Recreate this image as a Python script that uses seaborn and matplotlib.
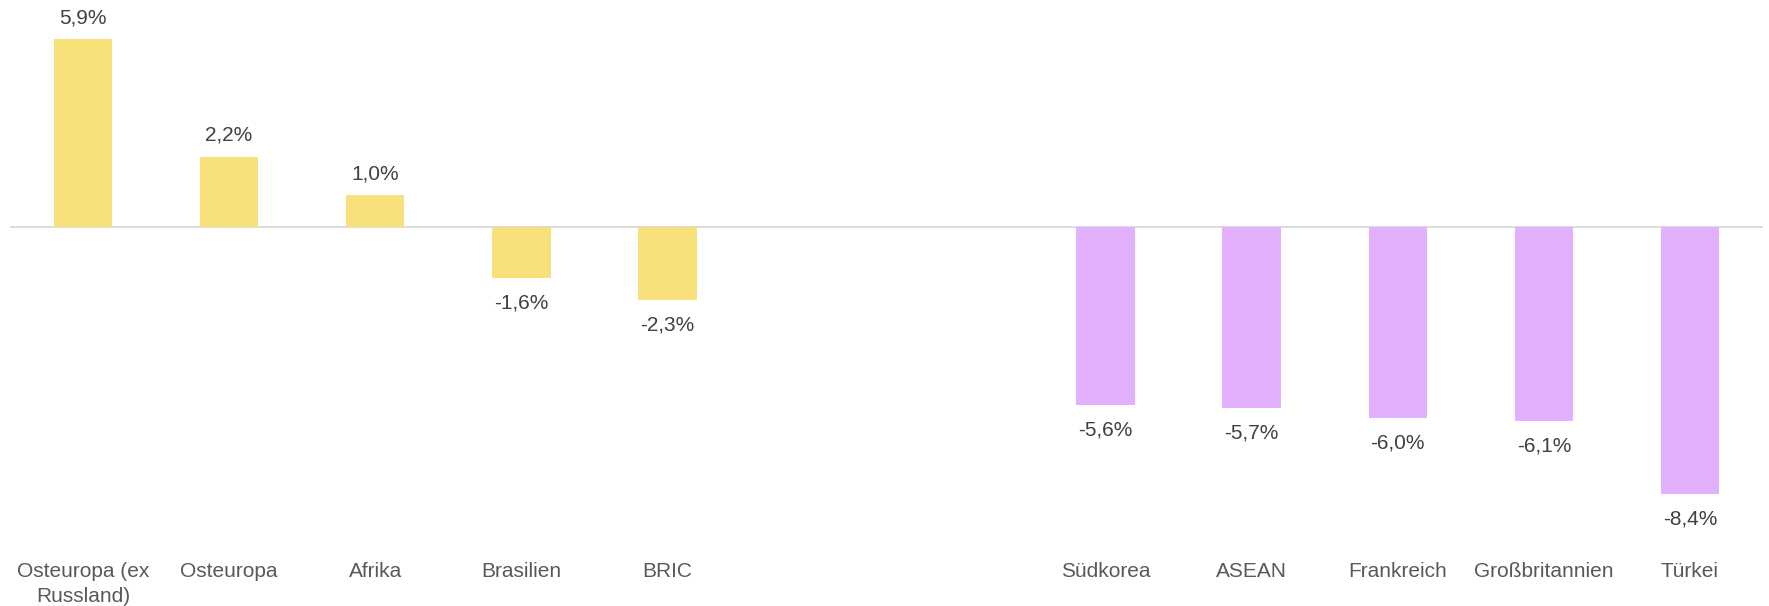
import pandas as pd
import seaborn as sns
import matplotlib.pyplot as plt

# change in %
regions = ['Osteuropa (ex\nRussland)', 'Osteuropa', 'Afrika', 'Brasilien', 'BRIC',
           'Südkorea', 'ASEAN', 'Frankreich', 'Großbritannien', 'Türkei']
values = [5.9, 2.2, 1.0, -1.6, -2.3, -5.6, -5.7, -6.0, -6.1, -8.4]
groups = ['top'] * 5 + ['flop'] * 5

# two empty slots between the groups
slots = regions[:5] + [' ', '  '] + regions[5:]

YELLOW = '#F8E17B'
PURPLE = '#E3B0FD'


def main():
    df = pd.DataFrame({'region': regions, 'value': values, 'group': groups})

    sns.set_style('white')
    plt.rcParams['font.family'] = ['Liberation Sans', 'DejaVu Sans']

    fig = plt.figure(figsize=(17.69, 6.06), dpi=100)
    ax = fig.add_axes([10 / 1769, 56 / 606, 1753 / 1769, 550 / 606])

    sns.barplot(data=df, x='region', y='value', hue='group', order=slots,
                palette={'top': YELLOW, 'flop': PURPLE}, width=0.4,
                dodge=False, legend=False, saturation=1, linewidth=0, ax=ax)

    # zero at 226.7px from the top, 31.8px per percent
    ax.set_ylim(-(550 - 226.7) / 31.8, 226.7 / 31.8)
    ax.set_xlim(-0.5, len(slots) - 0.5)
    ax.axhline(0, color='#D9D9D9', lw=1.3, zorder=0)

    for p in ax.patches:
        h = p.get_height()
        if p.get_width() == 0 or h != h:
            continue
        x = p.get_x() + p.get_width() / 2
        label = f'{h:.1f}%'.replace('.', ',')
        if h >= 0:
            ax.annotate(label, (x, h), xytext=(0, 8.5), textcoords='offset points',
                        ha='center', va='bottom', fontsize=15, color='#404040')
        else:
            ax.annotate(label, (x, h), xytext=(0, -11.5), textcoords='offset points',
                        ha='center', va='top', fontsize=15, color='#404040')

    ax.set_xlabel('')
    ax.set_ylabel('')
    ax.set_yticks([])
    ax.tick_params(axis='x', length=0, pad=8.5, labelsize=15, labelcolor='#595959')
    for t in ax.get_xticklabels():
        t.set_linespacing(1.38)
    sns.despine(ax=ax, left=True, bottom=True)

    fig.savefig('out.png', dpi=100)


if __name__ == '__main__':
    main()
